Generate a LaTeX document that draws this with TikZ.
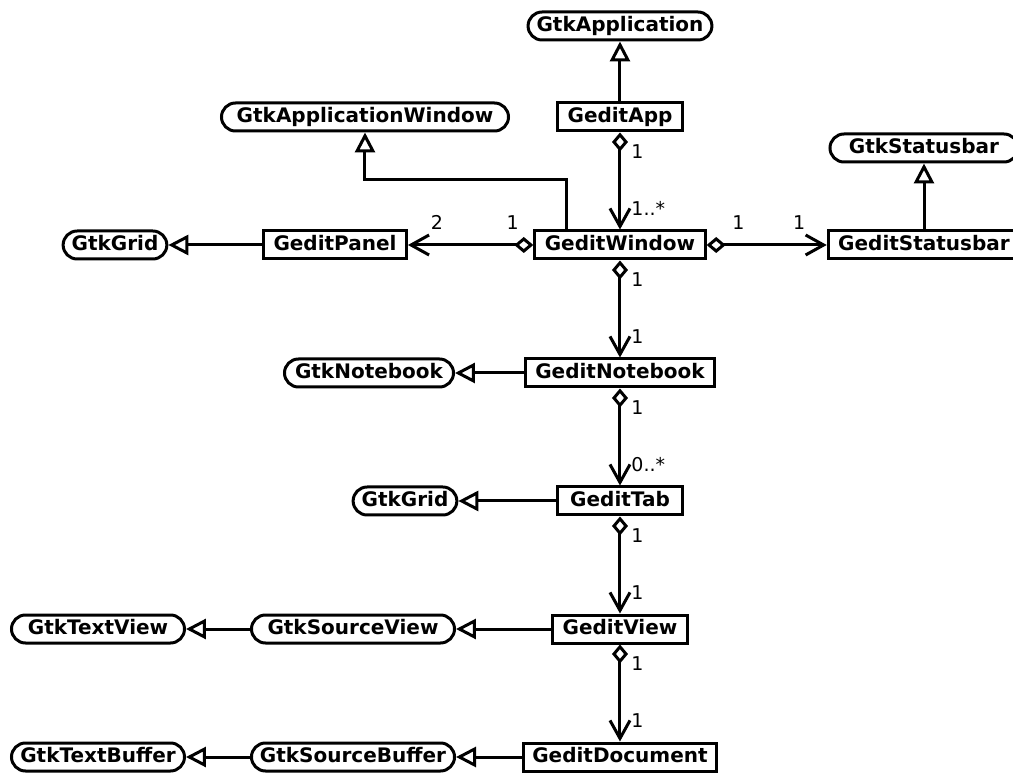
\documentclass[tikz,border=0pt]{standalone}
\usepackage{fontspec}
\setmainfont{DejaVu Sans}
\usetikzlibrary{arrows.meta,positioning}

\begin{document}
\begin{tikzpicture}[node distance=128pt,line width=3pt,auto]

  \tikzstyle{class}=[rectangle,draw=black,line width=3pt,
                     font=\fontsize{20}{24}\selectfont\bfseries,
                     minimum height=28pt,minimum width=125pt,inner xsep=10pt,
                     inner ysep=0pt,text height=14.5pt,text depth=4pt]
  \tikzstyle{gtk class}=[class,minimum width=0pt,inner xsep=8.5pt,rounded corners=14pt]
  \tikzstyle{inherit}=[-{Triangle[open,length=20pt,width=20pt]}]
  \tikzstyle{owns}=[{Diamond[open,length=19pt,width=16pt]}-{Straight Barb[length=18pt,width=20pt]}]
  \tikzstyle{mult}=[font=\fontsize{19}{22}\selectfont,inner sep=2pt]
  \tikzstyle{mult right}=[mult,anchor=west,xshift=8pt]
  \tikzstyle{mult above}=[mult,anchor=south,yshift=12pt]

  \useasboundingbox (-620pt,245pt) rectangle (393pt,-528pt);

  % Gedit classes
  \node [class] (gwin)                                   {GeditWindow};
  \node [class] (gapp)  [above of=gwin]                  {GeditApp};
  \node [class] (gnb)   [below of=gwin]                  {GeditNotebook};
  \node [class] (gtab)  [below of=gnb]                   {GeditTab};
  \node [class] (gview) [below of=gtab]                  {GeditView};
  \node [class,inner xsep=8.5pt] (gdoc) [below of=gview] {GeditDocument};
  \node [class] (gpanel) [left of=gwin,xshift=-157pt]    {GeditPanel};
  \node [class] (gsbar)  [right of=gwin,xshift=176pt]    {GeditStatusbar};

  % Gtk parents
  \node [gtk class] (gtkapp)    [above of=gapp,yshift=-37pt]   {GtkApplication};
  \node [gtk class,minimum width=287pt]
                    (gtkappwin) [left of=gapp,xshift=-127pt]   {GtkApplicationWindow};
  \node [gtk class,minimum width=188pt]
                    (gtksbar)   [above of=gsbar,yshift=-31pt]  {GtkStatusbar};
  \node [gtk class] (gtkgrid)   [left of=gpanel,xshift=-92pt]  {GtkGrid};
  \node [gtk class,minimum width=169pt]
                    (gtknb)     [left of=gnb,xshift=-123pt]    {GtkNotebook};
  \node [gtk class] (gtkgrid2)  [left of=gtab,xshift=-87pt]    {GtkGrid};
  \node [gtk class,minimum width=203pt]
                    (gtksv)     [left of=gview,xshift=-139pt]  {GtkSourceView};
  \node [gtk class,minimum width=173pt]
                    (gtktv)     [left of=gtksv,xshift=-127pt]  {GtkTextView};
  \node [gtk class,minimum width=203pt]
                    (gtksb)     [left of=gdoc,xshift=-139pt]   {GtkSourceBuffer};
  \node [gtk class,minimum width=173pt]
                    (gtktb)     [left of=gtksb,xshift=-127pt]  {GtkTextBuffer};

  % inheritance
  \draw [inherit] (gapp)   -- (gtkapp);
  \draw [inherit] ([xshift=-53pt]gwin.north) -- ++(0,50pt) -| (gtkappwin.south);
  \draw [inherit] (gsbar)  -- (gtksbar);
  \draw [inherit] (gpanel) -- (gtkgrid);
  \draw [inherit] (gnb)    -- (gtknb);
  \draw [inherit] (gtab)   -- (gtkgrid2);
  \draw [inherit] (gview)  -- (gtksv);
  \draw [inherit] (gtksv)  -- (gtktv);
  \draw [inherit] (gdoc)   -- (gtksb);
  \draw [inherit] (gtksb)  -- (gtktb);

  % composition
  \draw [owns] (gapp) -- (gwin)
    node [mult right,pos=0.2]  {1}
    node [mult right,pos=0.78] {1..*};
  \draw [owns] (gwin) -- (gpanel)
    node [mult above,pos=0.165] {1}
    node [mult above,pos=0.77]  {2};
  \draw [owns] (gwin) -- (gsbar)
    node [mult above,pos=0.265] {1}
    node [mult above,pos=0.77]  {1};
  \draw [owns] (gwin) -- (gnb)
    node [mult right,pos=0.2]  {1}
    node [mult right,pos=0.78] {1};
  \draw [owns] (gnb) -- (gtab)
    node [mult right,pos=0.2]  {1}
    node [mult right,pos=0.78] {0..*};
  \draw [owns] (gtab) -- (gview)
    node [mult right,pos=0.2]  {1}
    node [mult right,pos=0.78] {1};
  \draw [owns] (gview) -- (gdoc)
    node [mult right,pos=0.2]  {1}
    node [mult right,pos=0.78] {1};
\end{tikzpicture}
\end{document}
